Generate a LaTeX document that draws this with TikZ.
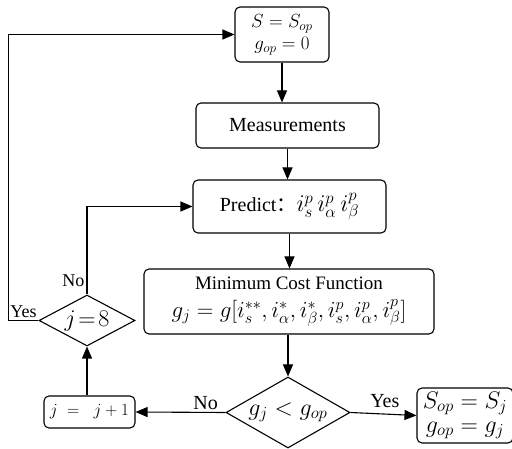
\RequirePackage{fix-cm}
\documentclass[tikz,border=0pt]{standalone}
\usepackage{fontspec}
\setmainfont{Liberation Serif}
\newfontfamily\cjk{Noto Sans CJK SC}
\usetikzlibrary{arrows.meta, positioning, shapes.geometric}

\begin{document}
\begin{tikzpicture}[x=1pt, y=-1pt,
    box/.style={draw, rounded corners=5pt, line width=1.1pt, inner sep=1pt, align=center},
    cond/.style={draw, diamond, line width=1.1pt, inner sep=-3pt},
    flow/.style={line width=1.1pt, -{Triangle[length=12pt, width=10pt]}},
    lab/.style={font=\fontsize{18}{18}\selectfont, inner sep=2pt}]
    \useasboundingbox (0,0) rectangle (512,449);
    % process boxes
    \node[box, minimum width=94pt, minimum height=55pt, font=\fontsize{19}{22}\selectfont] (init) at (282,34.5) {$S=S_{op}$\\$g_{op}=0$};
    \node[box, minimum width=183pt, minimum height=45pt, font=\fontsize{20}{22}\selectfont] (meas) at (287.5,125.5) {Measurements};
    \node[box, minimum width=193pt, minimum height=53pt, font=\fontsize{20}{22}\selectfont] (pred) at (289.5,206.5) {Predict{\cjk ：}{\fontsize{24}{24}\selectfont$i_s^p\,i_\alpha^p\,i_\beta^p$}};
    \node[box, minimum width=290pt, minimum height=65pt, font=\fontsize{19}{25}\selectfont] (cost) at (289,301.5) {Minimum Cost Function\\[3pt]{\fontsize{23}{25}\selectfont$g_j=g[i_s^{**},i_\alpha^{*},i_\beta^{*},i_s^p,i_\alpha^p,i_\beta^p]$}};
    \node[cond, aspect=1.75, minimum width=124pt, minimum height=71pt, font=\fontsize{24}{24}\selectfont] (cmp) at (288,412.5) {$g_j<g_{op}$};
    \node[box, minimum width=91pt, minimum height=32pt, font=\fontsize{17}{17}\selectfont] (inc) at (89.5,412) {$j\;=\;\;j+1$};
    \node[box, minimum width=96pt, minimum height=55pt, font=\fontsize{24}{24}\selectfont] (upd) at (465,415.5) {$S_{op}=S_j$\\$g_{op}=g_j$};
    \node[cond, aspect=1.88, minimum width=96pt, minimum height=51pt, font=\fontsize{24}{24}\selectfont] (chk) at (87,320.5) {$j\!=\!8$};
    % connectors
    \draw[flow] (init.south) -- (init.south |- meas.north);
    \draw[flow] (meas.south) -- (meas.south |- pred.north);
    \draw[flow] (pred.south) -- (pred.south |- cost.north);
    \draw[flow] (cost.south -| cmp.north) -- (cmp.north);
    \draw[flow] (cmp.west) -- node[lab, pos=0.22, above, font=\fontsize{20}{20}\selectfont] {No} (inc.east);
    \draw[flow] (cmp.east) -- node[lab, pos=0.52, above=4pt, font=\fontsize{20}{20}\selectfont] {Yes} (upd.west);
    \draw[flow] (chk.south |- inc.north) -- (chk.south);
    \draw[flow] (chk.north) |- node[lab, pos=0.08, left] {No} (pred.west);
    \draw[flow] (chk.west) -- node[lab, above] {Yes} ++(-30,0) |- (init.west);
\end{tikzpicture}
\end{document}
